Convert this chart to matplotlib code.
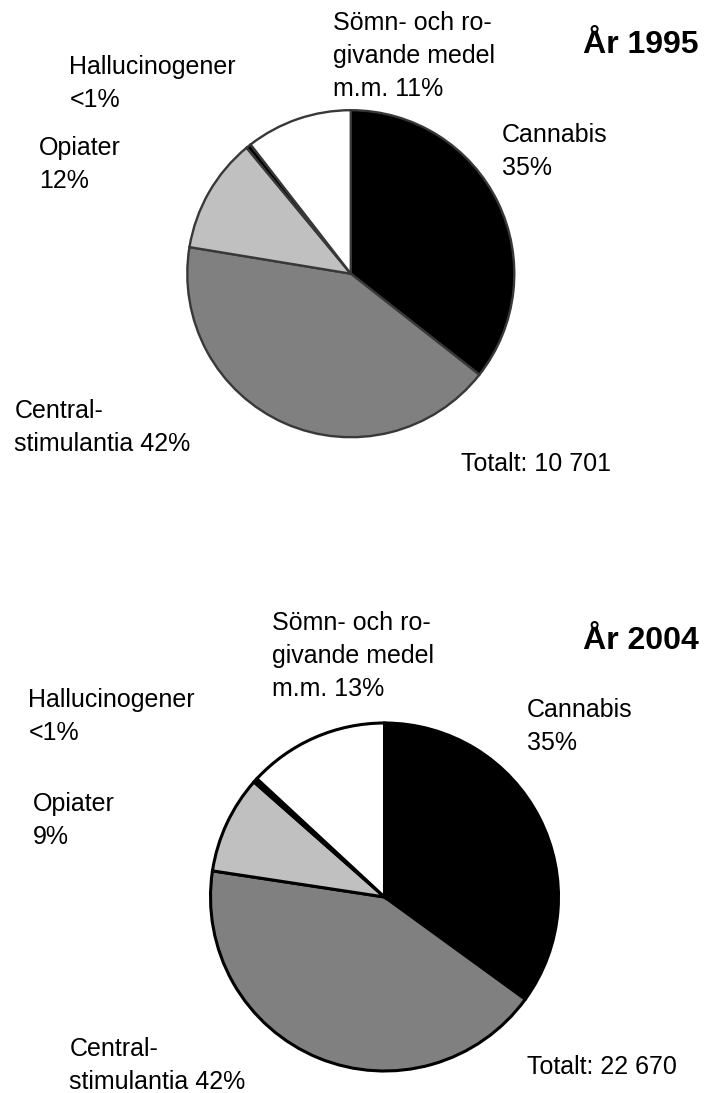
import matplotlib
matplotlib.use('Agg')
import matplotlib.pyplot as plt

W, H = 718, 1093
FONT = ['Liberation Sans', 'Arial', 'DejaVu Sans']

categories = ['Cannabis', 'Centralstimulantia', 'Opiater', 'Hallucinogener',
              'Sömn- och rogivande medel m.m.']
colors = ['black', '#808080', '#c0c0c0', 'black', 'white']

# slice shares as they are drawn in the picture (percent of the circle)
shares_1995 = [35.6, 42.0, 11.4, 0.5, 10.5]
shares_2004 = [35.0, 42.4, 9.1, 0.4, 13.1]

# label texts, one list of lines per category
labels_1995 = [['Cannabis', '35%'], ['Central-', 'stimulantia 42%'], ['Opiater', '12%'],
               ['Hallucinogener', '<1%'], ['Sömn- och ro-', 'givande medel', 'm.m. 11%']]
labels_2004 = [['Cannabis', '35%'], ['Central-', 'stimulantia 42%'], ['Opiater', '9%'],
               ['Hallucinogener', '<1%'], ['Sömn- och ro-', 'givande medel', 'm.m. 13%']]
titles = ['År 1995', 'År 2004']
totals = ['Totalt: 10 701', 'Totalt: 22 670']

# layout, in pixels from the top left corner
pies = [
	dict(shares=shares_1995, labels=labels_1995, center=(350.8, 273.7), radius=163.5,
		 edge='#383838', lw=1.7,
		 label_pos=[(502, 141.7), (14.3, 418.3), (39.3, 155), (69.3, 74), (333.3, 30)],
		 title_pos=(583.3, 53.3), total_pos=(461, 470.7)),
	dict(shares=shares_2004, labels=labels_2004, center=(384.5, 897), radius=174,
		 edge='black', lw=2.2,
		 label_pos=[(526.5, 716.7), (69.3, 1056), (32.7, 810.7), (28.3, 706.7), (272, 630)],
		 title_pos=(583.3, 649.3), total_pos=(527.4, 1074)),
]
LINE_STEP = 33
FS = 18
TITLE_FS = 23


def put_text(ax, x, y, lines, **kw):
	for i, line in enumerate(lines):
		ax.text(x, H - (y + i * LINE_STEP), line, ha='left', va='baseline',
				fontsize=kw.get('size', FS), fontweight=kw.get('weight', 'normal'), family=FONT)


fig = plt.figure(figsize=(W / 100, H / 100), dpi=100)
ax = fig.add_axes([0, 0, 1, 1])

for idx, p in enumerate(pies):
	cx, cy = p['center']
	ax.pie(p['shares'], colors=colors, startangle=90, counterclock=False,
		   center=(cx, H - cy), radius=p['radius'],
		   wedgeprops=dict(edgecolor=p['edge'], linewidth=p['lw']))
	for lines, (x, y) in zip(p['labels'], p['label_pos']):
		put_text(ax, x, y, lines)
	put_text(ax, *p['title_pos'], [titles[idx]], size=TITLE_FS, weight='bold')
	put_text(ax, *p['total_pos'], [totals[idx]])

ax.set_xlim(0, W)
ax.set_ylim(0, H)
ax.set_aspect('equal')
ax.axis('off')

fig.savefig('out.png', dpi=100)
plt.close()
